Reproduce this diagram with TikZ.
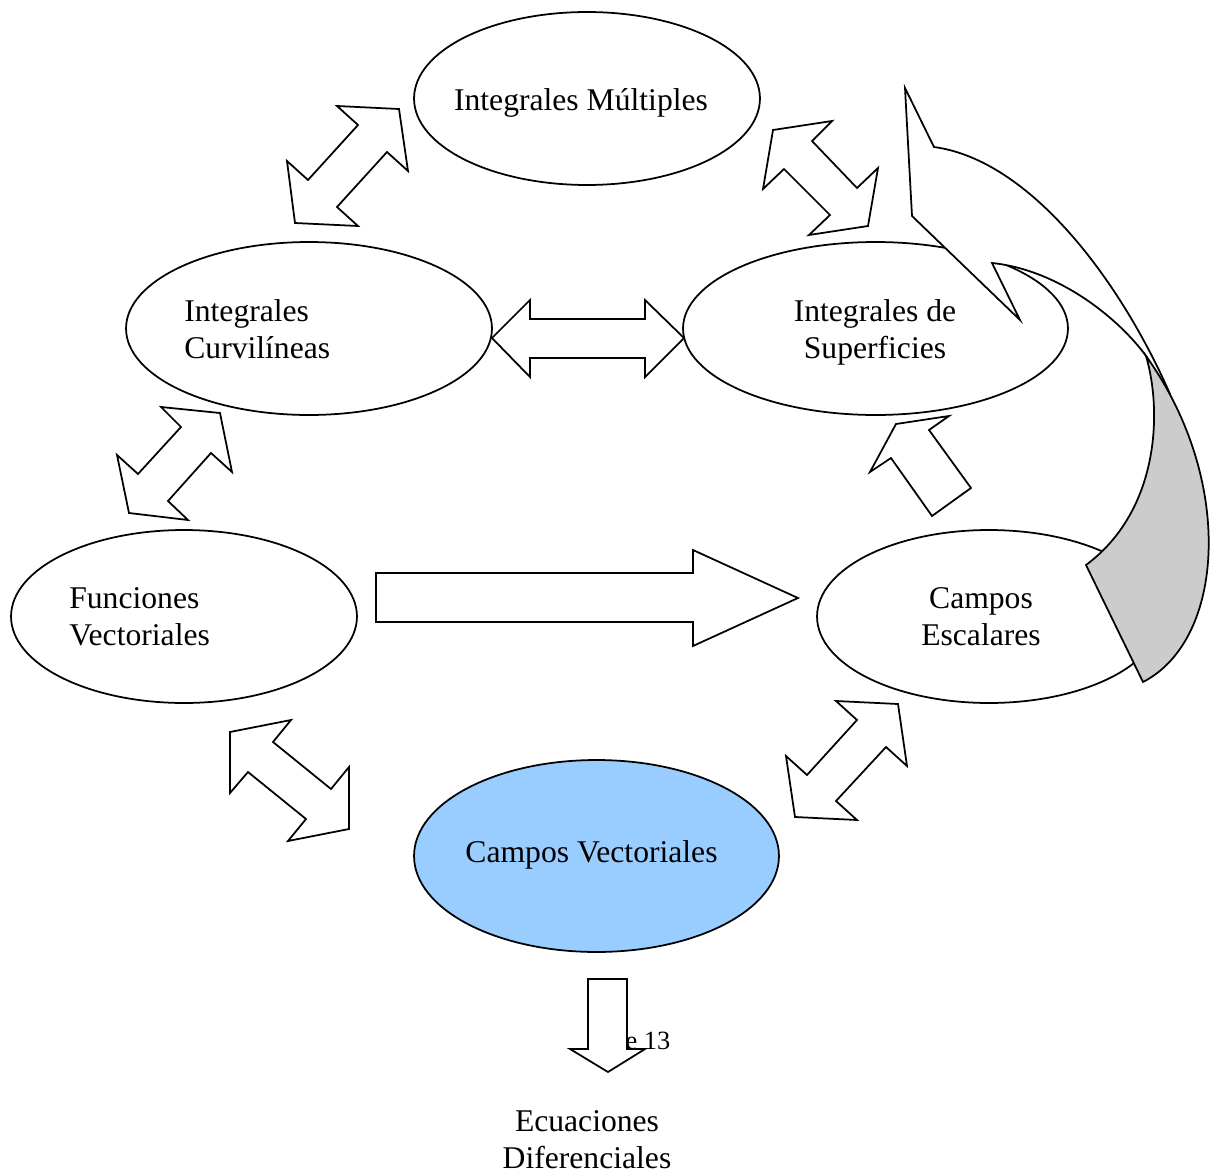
\documentclass[tikz,border=0pt]{standalone}
\usepackage{fontspec}
\setmainfont{Liberation Serif}
\usetikzlibrary{shapes.geometric}

\definecolor{celeste}{HTML}{99CCFF}
\definecolor{sombra}{HTML}{CCCCCC}

\tikzset{
  tema/.style={ellipse, draw, line width=1pt, inner sep=0pt, minimum height=3.46cm},
  flecha/.style={draw, fill=white, line width=1pt, line join=miter},
  rotulo/.style={font=\fontsize{18}{21}\selectfont, inner sep=0pt},
}

\begin{document}
\begin{tikzpicture}[x=0.02cm, y=-0.02cm]
    \useasboundingbox (0,0) rectangle (1211,1173);

    % elipses de los temas
    \node[tema, minimum width=6.92cm] (multiples) at (587,98.5) {};
    \node[tema, minimum width=7.32cm] (curvilineas) at (309,328.5) {};
    \node[tema, minimum width=7.70cm] (superficies) at (875.5,328.5) {};
    \node[tema, minimum width=6.92cm] (funciones) at (184,616.5) {};
    \node[tema, minimum width=6.88cm] (escalares) at (989,616.5) {};
    \node[tema, fill=celeste, minimum width=7.30cm, minimum height=3.84cm] (vectoriales) at (596.5,856) {};

    % flechas dobles
    \draw[flecha] (337,106) -- (399,109) -- (408,171) -- (387,152) -- (337,207)
        -- (358,226) -- (295,223) -- (287,161) -- (308,180) -- (358,125) -- cycle;
    \draw[flecha] (773,130) -- (832,121) -- (812,141) -- (857,188) -- (878,168)
        -- (868,226) -- (809,235) -- (830,215) -- (784,169) -- (763,189) -- cycle;
    \draw[flecha] (161,407) -- (220,413) -- (232,472) -- (211,453) -- (168,501)
        -- (188,520) -- (129,513) -- (117,455) -- (138,474) -- (181,427) -- cycle;
    \draw[flecha] (492,338) -- (530,300) -- (530,319) -- (645,319) -- (645,300)
        -- (684,338) -- (645,377) -- (645,358) -- (530,358) -- (530,377) -- cycle;
    \draw[flecha] (230,732) -- (291,720) -- (273,742) -- (331,789) -- (349,767)
        -- (349,829) -- (288,841) -- (306,819) -- (248,772) -- (230,793) -- cycle;
    \draw[flecha] (836,701) -- (898,704) -- (907,766) -- (886,747) -- (836,801)
        -- (857,820) -- (795,817) -- (786,756) -- (807,775) -- (857,720) -- cycle;

    % flechas simples
    \draw[flecha] (896,424) -- (949,416) -- (929,430) -- (971,488) -- (932,516)
        -- (891,458) -- (870,472) -- cycle;
    \draw[flecha] (376,573) -- (693,573) -- (693,550) -- (798,598) -- (693,646)
        -- (693,622) -- (376,622) -- cycle;
    \draw[flecha] (588,979) -- (627,979) -- (627,1049) -- (645,1049) -- (608,1072)
        -- (570,1049) -- (588,1049) -- cycle;

    % flecha curva
    \draw[flecha] (905,88) -- (934,147) .. controls (1030,160) and (1120,280) .. (1170,394)
        -- (1146,356) .. controls (1120,320) and (1060,270) .. (992,263)
        -- (1020,320) -- (912,216) -- cycle;
    \draw[flecha, fill=sombra] (1146,356) .. controls (1162,410) and (1160,510) .. (1086,565)
        -- (1143,682) .. controls (1225,640) and (1235,480) .. (1146,356) -- cycle;

    % textos
    \node[rotulo, anchor=base] (tmultiples) at (581,110) {Integrales Múltiples};
    \node[rotulo, align=left, anchor=west] (tcurvilineas) at (184,329) {Integrales\\Curvilíneas};
    \node[rotulo, align=center] (tsuperficies) at (875,332) {Integrales de\\Superficies};
    \node[rotulo, align=left, anchor=west] (tfunciones) at (69,617) {Funciones\\Vectoriales};
    \node[rotulo, align=center] (tescalares) at (981,617) {Campos\\Escalares};
    \node[rotulo, anchor=base] (tvectoriales) at (591.5,862) {Campos Vectoriales};
    \node[inner sep=0pt, font=\fontsize{15}{18}\selectfont, anchor=base] (tpagina) at (648,1049) {e 13};
    \node[rotulo, align=center] (tecuaciones) at (587,1140) {Ecuaciones\\Diferenciales};
\end{tikzpicture}
\end{document}
